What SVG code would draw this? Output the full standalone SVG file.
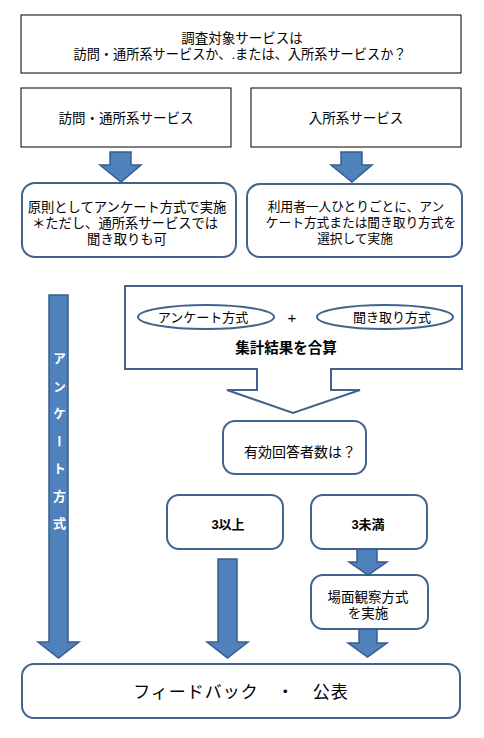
<svg xmlns="http://www.w3.org/2000/svg" width="484" height="738" viewBox="0 0 484 738">
<style>
text{font-family:"Liberation Sans","Noto Sans CJK JP",sans-serif;font-size:13.5px;fill:#000;text-anchor:middle;dominant-baseline:central}
.rect{fill:#fff;stroke:#000;stroke-width:1}
.rbox{fill:#fff;stroke:#41648F;stroke-width:2}
.arrow{fill:#4F81BD;stroke:#385D8A;stroke-width:1.5;stroke-linejoin:miter}
.b{font-weight:bold}
.s{font-size:12.7px}
</style>
<rect width="484" height="738" fill="#fff"/>
<g id="q-type">
<rect class="rect" x="21" y="15" width="440" height="58"/>
<text x="242" y="38">調査対象サービスは</text>
<text x="240" y="54" style="font-size:13.2px">訪問・通所系サービスか、.または、入所系サービスか？</text>
</g>
<g id="visit-service">
<rect class="rect" x="21" y="88" width="210" height="59"/>
<text x="126" y="118">訪問・通所系サービス</text>
</g>
<g id="resident-service">
<rect class="rect" x="251" y="88" width="210" height="59"/>
<text x="356" y="118">入所系サービス</text>
</g>
<g id="visit-method">
<rect class="rbox" x="22" y="183" width="214" height="74" rx="13"/>
<text x="127" y="207" style="font-size:13.3px">原則としてアンケート方式で実施</text>
<text x="125" y="223" style="font-size:13.3px">＊ただし、通所系サービスでは</text>
<text x="127" y="239" style="font-size:13.3px">聞き取りも可</text>
</g>
<g id="resident-method">
<rect class="rbox" x="247" y="184" width="215" height="73" rx="13"/>
<text class="s" x="356" y="207">利用者一人ひとりごとに、アン</text>
<text class="s" x="361" y="223">ケート方式または聞き取り方式を</text>
<text class="s" x="355" y="239">選択して実施</text>
</g>
<g id="combine">
<path class="rbox" d="M125,286 H462 V369 H331 V390 H360 L293,413 L227,390 H257 V369 H125 Z"/>
<ellipse class="rbox" cx="206" cy="317" rx="68" ry="12"/>
<ellipse class="rbox" cx="385" cy="317" rx="68" ry="12"/>
<text x="203" y="317" style="font-size:13px">アンケート方式</text>
<text x="292" y="317" style="font-size:15px">+</text>
<text x="392" y="317" style="font-size:13px">聞き取り方式</text>
<text class="b" x="286" y="348" style="font-size:14.5px">集計結果を合算</text>
</g>
<g id="valid-count">
<rect class="rbox" x="223" y="421" width="143" height="53" rx="12"/>
<text x="300" y="452" style="font-size:14px">有効回答者数は？</text>
</g>
<g id="three-plus">
<rect class="rbox" x="167" y="495" width="116" height="54" rx="12"/>
<text class="b" x="228" y="524" style="font-size:13px">3以上</text>
</g>
<g id="under-three">
<rect class="rbox" x="311" y="495" width="116" height="54" rx="12"/>
<text class="b" x="368" y="524" style="font-size:13px">3未満</text>
</g>
<g id="observation">
<rect class="rbox" x="311" y="575" width="117" height="54" rx="12"/>
<text x="368" y="597">場面観察方式</text>
<text x="368" y="613">を実施</text>
</g>
<g id="feedback">
<rect class="rbox" x="22" y="664" width="438" height="54" rx="12"/>
<text x="241" y="692" style="font-size:17px;letter-spacing:1px">フィードバック　・　公表</text>
</g>
<g id="connectors">
<path class="arrow" d="M110,152 H131 V165 H141 L121,182 L100,165 H110 Z"/>
<path class="arrow" d="M341,152 H362 V165 H372 L352,182 L331,165 H341 Z"/>
<path class="arrow" d="M49,295 H68 V642 H79 L58.5,658 L38,642 H49 Z"/>
<text class="b" x="58.5" y="352" style="fill:#fff;font-size:13px;writing-mode:vertical-rl;letter-spacing:14.5px;text-anchor:start;dominant-baseline:central">アンケート方式</text>
<path class="arrow" d="M218,559 H237 V642 H248 L227.5,658 L207,642 H218 Z"/>
<path class="arrow" d="M357,549 H377 V562 H387 L368,575 L349,562 H357 Z"/>
<path class="arrow" d="M359,629 H377 V643 H387 L367.5,657 L348,643 H359 Z"/>
</g>
</svg>
